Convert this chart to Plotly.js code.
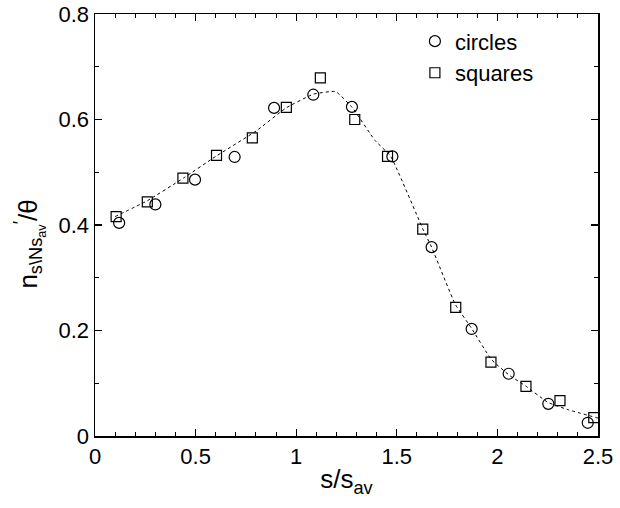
<!DOCTYPE html>
<html>
<head>
<meta charset="utf-8">
<script src="https://cdn.plot.ly/plotly-3.0.1.min.js"></script>
<style>html,body{margin:0;padding:0;background:#fff;}#chart{width:620px;height:508px;}</style>
</head>
<body>
<div id="chart"></div>
<script>
// circles series
const circleX = [0.12, 0.30, 0.497, 0.694, 0.89, 1.085, 1.277, 1.478, 1.673, 1.872, 2.056, 2.253, 2.449];
const circleY = [0.404, 0.439, 0.486, 0.529, 0.622, 0.647, 0.624, 0.530, 0.358, 0.203, 0.118, 0.061, 0.025];
// squares series
const squareX = [0.105, 0.26, 0.437, 0.604, 0.782, 0.951, 1.12, 1.291, 1.454, 1.629, 1.793, 1.968, 2.142, 2.311, 2.479];
const squareY = [0.416, 0.444, 0.489, 0.532, 0.565, 0.623, 0.679, 0.600, 0.530, 0.392, 0.244, 0.140, 0.094, 0.067, 0.035];
// dotted guide curve
const curveX = [0.1, 0.26, 0.44, 0.6, 0.8, 0.95, 1.085, 1.196, 1.28, 1.39, 1.47, 1.63, 1.673, 1.79, 1.87, 1.97, 2.06, 2.14, 2.25, 2.35, 2.5];
const curveY = [0.416, 0.446, 0.489, 0.530, 0.578, 0.622, 0.648, 0.653, 0.622, 0.561, 0.530, 0.392, 0.358, 0.250, 0.205, 0.145, 0.115, 0.095, 0.064, 0.050, 0.034];

const xTicks = [0, 0.5, 1, 1.5, 2, 2.5];
const xTickText = ['0', '0.5', '1', '1.5', '2', '2.5'];
const yTicks = [0, 0.2, 0.4, 0.6, 0.8];
const yTickText = ['0', '0.2', '0.4', '0.6', '0.8'];

const font = 'Liberation Sans, Arial, Helvetica, sans-serif';

const traces = [
  {x: curveX, y: curveY, mode: 'lines', line: {color: '#000', width: 1, dash: 'dot', shape: 'spline', smoothing: 0.35}, showlegend: false, hoverinfo: 'skip'},
  {x: circleX, y: circleY, mode: 'markers', name: 'circles',
   marker: {symbol: 'circle-open', size: 11, color: '#000', line: {width: 1.2, color: '#000'}}},
  {x: squareX, y: squareY, mode: 'markers', name: 'squares',
   marker: {symbol: 'square-open', size: 10, color: '#000', line: {width: 1.2, color: '#000'}}}
];

const axisCommon = {
  showgrid: false, zeroline: false, showline: true, mirror: 'ticks',
  linecolor: '#000', linewidth: 1.5, ticks: 'inside', ticklen: 7, tickwidth: 1.2, tickcolor: '#000',
  tickfont: {family: font, size: 22, color: '#000'}
};

const layout = {
  width: 620, height: 508,
  margin: {l: 95, r: 22, t: 14, b: 72},
  paper_bgcolor: '#fff', plot_bgcolor: '#fff',
  font: {family: font, color: '#000'},
  showlegend: true,
  legend: {x: 0.636, y: 0.985, xanchor: 'left', yanchor: 'top', bgcolor: 'rgba(0,0,0,0)',
           font: {family: font, size: 22, color: '#000'}, itemwidth: 30, tracegroupgap: 0},
  xaxis: Object.assign({}, axisCommon, {
    range: [0, 2.5], tickvals: xTicks, ticktext: xTickText,
    minor: {dtick: 0.1, ticks: 'inside', ticklen: 4, tickwidth: 1, tickcolor: '#000'},
    title: {text: 's/s<sub>av</sub>', font: {family: font, size: 26, color: '#000'}, standoff: 2}
  }),
  yaxis: Object.assign({}, axisCommon, {
    range: [0, 0.8], tickvals: yTicks, ticktext: yTickText, ticksuffix: '\u2009\u2009',
    minor: {dtick: 0.1, ticks: 'inside', ticklen: 4, tickwidth: 1, tickcolor: '#000'}
  }),
  annotations: [{
    xref: 'paper', yref: 'paper', x: -0.13, y: 0.455, xanchor: 'center', yanchor: 'middle',
    textangle: -90, showarrow: false,
    text: 'n<sub>s\\Ns<sub>av</sub></sub><sup>\u2032</sup>/θ',
    font: {family: font, size: 26, color: '#000'}
  }]
};

Plotly.newPlot('chart', traces, layout, {displayModeBar: false, staticPlot: true});
</script>
</body>
</html>
